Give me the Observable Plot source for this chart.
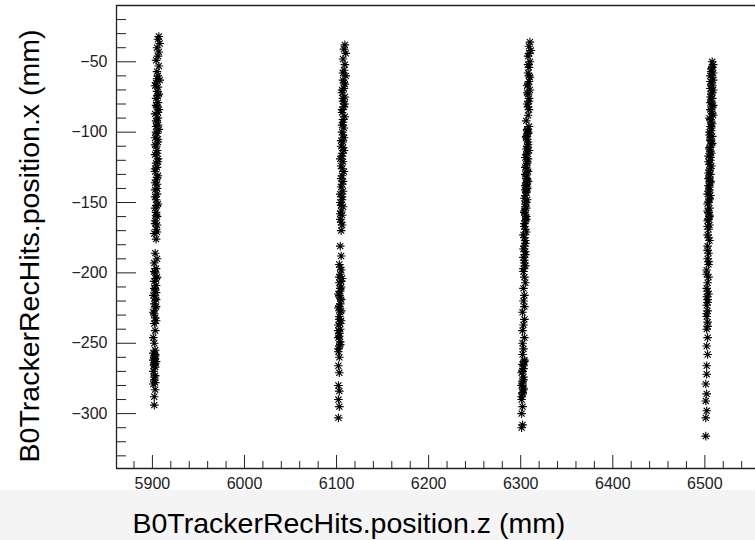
<!DOCTYPE html>
<html>
<head>
<meta charset="utf-8">
<script src="https://cdn.jsdelivr.net/npm/d3@7"></script>
<script src="https://cdn.jsdelivr.net/npm/@observablehq/plot@0.6"></script>
<style>
  html, body { margin: 0; padding: 0; }
  body { width: 755px; height: 540px; overflow: hidden;
         background: linear-gradient(to bottom, #ffffff 490px, #f4f4f4 490px); }
  #chart svg { display: block; }
</style>
</head>
<body>
<div id="chart"></div>
<script>
// ---- data: [position.z, position.x] in mm ----
const col5900 = [
  [5907,-32],[5906,-34],[5908,-37],[5905,-40],[5907,-43],[5906,-46],[5904,-49],[5907,-53],[5905,-57],[5906,-60],
  [5908,-63],[5904,-65],[5906,-68],[5905,-71],[5907,-73],[5904,-76],[5906,-79],[5905,-82],[5907,-84],[5903,-87],
  [5906,-90],[5905,-93],[5904,-96],[5907,-98],[5905,-101],[5903,-104],[5906,-107],[5904,-110],[5905,-113],[5903,-116],
  [5906,-119],[5904,-122],[5905,-125],[5903,-128],[5906,-131],[5904,-134],[5905,-137],[5903,-141],[5905,-144],[5904,-148],
  [5906,-151],[5903,-154],[5904,-157],[5905,-160],[5903,-163],[5905,-166],[5904,-169],[5902,-172],[5904,-176],[5903,-186],
  [5905,-190],[5902,-193],[5904,-197],[5903,-200],[5905,-203],[5902,-206],[5904,-209],[5903,-212],[5901,-216],[5904,-219],
  [5902,-222],[5903,-225],[5901,-228],[5903,-232],[5902,-236],[5903,-241],[5901,-246],[5902,-250],[5903,-255],[5901,-257],
  [5903,-259],[5902,-260],[5901,-262],[5903,-264],[5902,-266],[5901,-270],[5903,-273],[5902,-276],[5901,-279],[5903,-283],
  [5902,-288],[5902,-294],
  [5905,-62],[5903,-67],[5906,-74],[5904,-81],[5906,-86],[5904,-92],[5906,-95],[5904,-100],[5906,-105],[5903,-109],
  [5905,-115],[5906,-121],[5903,-126],[5905,-132],[5903,-136],[5905,-140],[5903,-146],[5905,-152],[5904,-159],[5903,-165],
  [5905,-171],[5902,-199],[5904,-204],[5902,-211],[5904,-214],[5903,-218],[5904,-224],[5902,-229],[5904,-234],[5903,-258],
  [5902,-261],[5904,-263],[5902,-265],[5903,-267],[5902,-274],[5903,-278]
];
const col6100 = [
  [6109,-38],[6108,-41],[6110,-44],[6107,-48],[6109,-52],[6108,-56],[6110,-60],[6107,-63],[6109,-66],[6108,-69],
  [6106,-72],[6109,-75],[6107,-78],[6108,-82],[6106,-86],[6109,-89],[6107,-93],[6108,-97],[6106,-100],[6108,-104],
  [6107,-107],[6105,-110],[6108,-113],[6106,-117],[6107,-121],[6105,-124],[6108,-128],[6106,-131],[6107,-135],[6105,-139],
  [6107,-142],[6106,-146],[6104,-150],[6107,-153],[6105,-156],[6106,-159],[6104,-162],[6106,-166],[6105,-170],[6104,-181],
  [6105,-188],[6103,-194],[6105,-198],[6104,-201],[6106,-204],[6103,-207],[6105,-210],[6104,-213],[6103,-216],[6105,-219],
  [6104,-222],[6102,-225],[6104,-228],[6103,-231],[6105,-234],[6102,-237],[6104,-240],[6103,-243],[6102,-246],[6104,-249],
  [6103,-252],[6102,-256],[6103,-260],[6102,-266],[6103,-271],[6102,-280],[6103,-284],[6102,-290],[6103,-295],[6102,-303],
  [6107,-58],[6108,-65],[6106,-70],[6107,-76],[6109,-80],[6106,-84],[6107,-91],[6106,-95],[6107,-102],[6105,-106],
  [6107,-111],[6106,-115],[6104,-119],[6106,-126],[6105,-133],[6106,-137],[6104,-144],[6106,-148],[6105,-152],[6104,-158],
  [6105,-164],[6104,-196],[6103,-203],[6105,-206],[6104,-211],[6102,-215],[6104,-218],[6103,-224],[6105,-227],[6103,-233],
  [6104,-236],[6102,-241],[6103,-245],[6104,-251],[6102,-254]
];
const col6300 = [
  [6310,-36],[6309,-39],[6311,-42],[6308,-46],[6310,-50],[6309,-54],[6308,-58],[6310,-61],[6309,-64],[6307,-67],
  [6310,-70],[6308,-73],[6309,-76],[6307,-80],[6309,-84],[6308,-88],[6306,-92],[6309,-96],[6307,-99],[6308,-101],
  [6306,-104],[6308,-107],[6307,-110],[6309,-113],[6306,-116],[6308,-119],[6307,-122],[6305,-125],[6308,-128],[6306,-131],
  [6307,-134],[6306,-136],[6305,-138],[6307,-140],[6306,-142],[6305,-145],[6307,-148],[6305,-151],[6306,-154],[6304,-157],
  [6306,-160],[6305,-163],[6304,-167],[6306,-171],[6304,-175],[6305,-179],[6303,-183],[6305,-187],[6304,-191],[6305,-195],
  [6303,-199],[6304,-203],[6305,-207],[6303,-211],[6304,-216],[6303,-220],[6304,-224],[6302,-228],[6304,-233],[6303,-237],
  [6302,-241],[6304,-246],[6302,-250],[6303,-254],[6302,-258],[6304,-262],[6302,-265],[6303,-268],[6301,-271],[6303,-274],
  [6302,-277],[6301,-280],[6303,-283],[6302,-286],[6301,-290],[6302,-295],[6301,-300],[6302,-308],[6301,-310],
  [6309,-44],[6308,-52],[6309,-60],[6308,-66],[6307,-72],[6309,-78],[6308,-82],[6307,-98],[6308,-100],[6306,-103],
  [6307,-105],[6308,-109],[6306,-112],[6307,-115],[6305,-118],[6307,-121],[6306,-124],[6307,-127],[6305,-130],[6306,-133],
  [6308,-135],[6306,-137],[6307,-139],[6305,-141],[6306,-143],[6304,-147],[6306,-150],[6305,-153],[6304,-156],[6305,-159],
  [6306,-162],[6304,-165],[6305,-169],[6303,-173],[6305,-177],[6304,-181],[6305,-185],[6303,-189],[6304,-193],[6303,-197],
  [6304,-263],[6303,-266],[6302,-270],[6303,-276],[6302,-279],[6303,-282],[6302,-285],[6301,-288]
];
const col6500 = [
  [6508,-50],[6509,-52],[6507,-55],[6509,-58],[6508,-61],[6506,-64],[6508,-67],[6509,-70],[6507,-73],[6508,-76],
  [6506,-79],[6508,-82],[6507,-85],[6509,-88],[6506,-91],[6508,-94],[6507,-97],[6505,-100],[6508,-103],[6506,-106],
  [6507,-109],[6505,-112],[6507,-115],[6506,-118],[6504,-121],[6507,-124],[6505,-127],[6506,-130],[6504,-133],[6506,-136],
  [6505,-139],[6504,-142],[6506,-145],[6505,-148],[6503,-151],[6505,-154],[6504,-157],[6505,-160],[6503,-163],[6505,-166],
  [6504,-169],[6503,-173],[6505,-177],[6503,-181],[6504,-186],[6503,-190],[6504,-194],[6502,-198],[6504,-203],[6503,-207],
  [6502,-211],[6504,-215],[6503,-219],[6502,-223],[6503,-227],[6502,-231],[6503,-235],[6502,-240],[6503,-246],[6502,-252],
  [6503,-258],[6502,-266],[6502,-272],[6501,-279],[6502,-286],[6501,-291],[6502,-298],[6501,-303],[6501,-316],
  [6508,-54],[6507,-57],[6506,-60],[6509,-63],[6507,-66],[6506,-69],[6508,-72],[6506,-75],[6507,-78],[6509,-81],
  [6506,-84],[6508,-87],[6505,-90],[6507,-93],[6506,-96],[6507,-99],[6505,-102],[6506,-105],[6508,-108],[6505,-111],
  [6506,-114],[6504,-117],[6506,-120],[6505,-123],[6506,-126],[6504,-129],[6505,-132],[6506,-135],[6504,-138],[6505,-141],
  [6503,-144],[6505,-147],[6504,-150],[6503,-156],[6505,-159],[6504,-162],[6503,-167],[6504,-175],[6503,-184],[6504,-192],
  [6502,-201],[6503,-213],[6502,-217],[6503,-221],[6502,-229],[6503,-238]
];

const xMajorTicks = [5900, 6000, 6100, 6200, 6300, 6400, 6500];
const yMajorTicks = [-50, -100, -150, -200, -250, -300];
const xMinorTicks = [5880, 5920, 5940, 5960, 5980, 6020, 6040, 6060, 6080, 6120, 6140, 6160, 6180,
                     6220, 6240, 6260, 6280, 6320, 6340, 6360, 6380, 6420, 6440, 6460, 6480, 6520, 6540];
const yMinorTicks = [-20, -30, -40, -60, -70, -80, -90, -110, -120, -130, -140, -160, -170, -180, -190,
                     -210, -220, -230, -240, -260, -270, -280, -290, -310, -320, -330];
const xTitle = "B0TrackerRecHits.position.z (mm)";
const yTitle = "B0TrackerRecHits.position.x (mm)";
const xDomain = [5861, 6555];
const yDomain = [-339, -10];

// ---- build ----
const hits = [...col5900, ...col6100, ...col6300, ...col6500].map(([z, x]) => ({z, x}));

const W = 755, H = 540, mL = 116, mR = 0, mT = 5, mB = 72;
const frameW = W - mL - mR, frameH = H - mT - mB;

// ROOT-style "*" marker: horizontal, vertical and two diagonal strokes
const rootStar = {
  draw(ctx, size) {
    const r = Math.sqrt(size / Math.PI);
    const d = r * Math.SQRT1_2;
    ctx.moveTo(-r, 0); ctx.lineTo(r, 0);
    ctx.moveTo(0, -r); ctx.lineTo(0, r);
    ctx.moveTo(-d, -d); ctx.lineTo(d, d);
    ctx.moveTo(-d, d); ctx.lineTo(d, -d);
  }
};

const fmt = d3.format("d");
const font = "'Liberation Sans', Arial, Helvetica, sans-serif";

const chart = Plot.plot({
  width: W, height: H,
  marginLeft: mL, marginRight: mR, marginTop: mT, marginBottom: mB,
  style: { fontFamily: font, fontSize: "16px", color: "#222", background: "transparent" },
  x: { domain: xDomain, axis: null },
  y: { domain: yDomain, axis: null },
  marks: [
    // frame (left, top, bottom)
    Plot.ruleX([xDomain[0]], { stroke: "#222", strokeWidth: 1.3 }),
    Plot.ruleY([yDomain[1]], { stroke: "#222", strokeWidth: 1.3 }),
    Plot.ruleY([yDomain[0]], { stroke: "#222", strokeWidth: 1.3 }),
    // inward ticks
    Plot.tickY(yMajorTicks, { y: d => d, insetRight: frameW - 20, stroke: "#222" }),
    Plot.tickY(yMinorTicks, { y: d => d, insetRight: frameW - 10, stroke: "#222" }),
    Plot.tickX(xMajorTicks, { x: d => d, insetTop: frameH - 13, stroke: "#222" }),
    Plot.tickX(xMinorTicks, { x: d => d, insetTop: frameH - 7, stroke: "#222" }),
    // tick labels
    Plot.axisY({ ticks: yMajorTicks, tickSize: 0, tickPadding: 9, tickFormat: fmt, label: null, fontSize: 16 }),
    Plot.axisX({ ticks: xMajorTicks, tickSize: 0, tickPadding: 9, tickFormat: fmt, label: null, fontSize: 16 }),
    // data
    Plot.dot(hits, { x: "z", y: "x", symbol: rootStar, r: 4.3, stroke: "#000", fill: "none", strokeWidth: 1.1 }),
    // axis titles
    Plot.text([xTitle], { frameAnchor: "bottom-left", textAnchor: "start", lineAnchor: "middle",
      dx: 16, dy: 55, fontSize: 28.5, fill: "#000" }),
    Plot.text([yTitle], { frameAnchor: "left", textAnchor: "middle", lineAnchor: "middle",
      rotate: -90, dx: -87, dy: 9, fontSize: 28.5, fill: "#000" })
  ]
});
document.getElementById("chart").append(chart);
</script>
</body>
</html>
